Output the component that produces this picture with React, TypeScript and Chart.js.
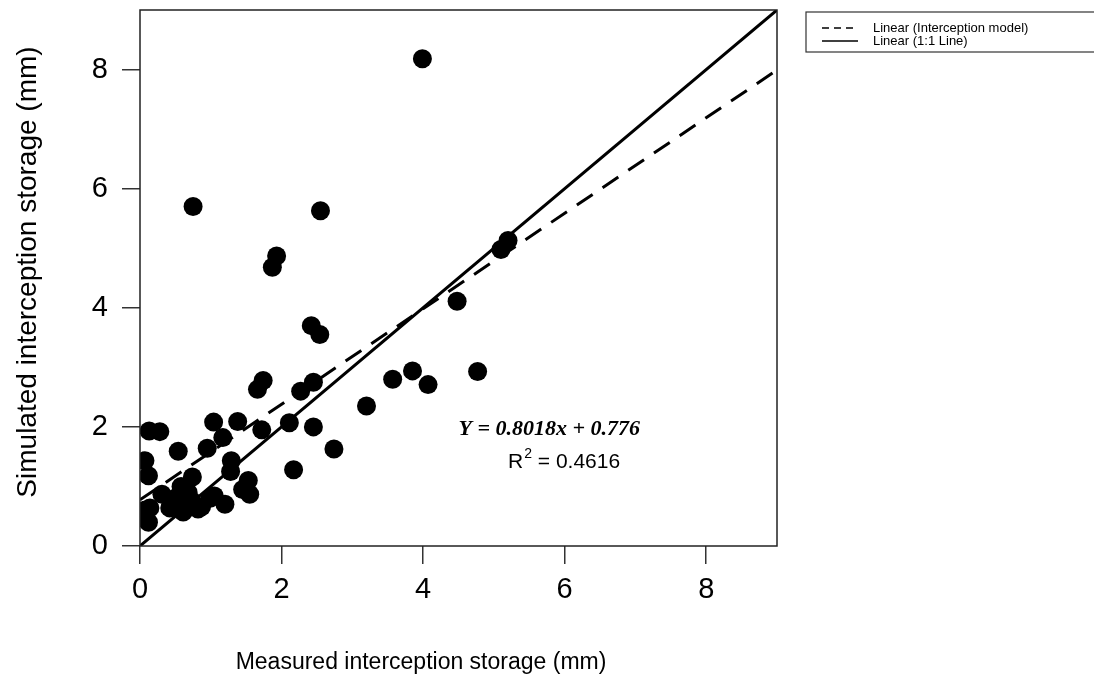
import React, { useEffect, useRef } from "react";
import { Chart, registerables } from "chart.js";

Chart.register(...registerables);

// ---- data ----
const measured = [
  3.99, 0.75, 2.55, 1.93, 1.87, 2.42, 2.54, 4.48, 5.1, 5.2,
  1.74, 1.66, 2.27, 2.45, 3.57, 3.85, 4.07, 4.77, 3.2, 2.74,
  2.17, 2.45, 2.11, 1.72, 1.38, 1.04, 1.17, 0.13, 0.28, 0.54,
  0.95, 0.07, 0.12, 1.29, 1.28, 0.74, 1.53, 1.45, 1.55, 1.2,
  1.05, 0.87, 0.99, 0.61, 0.42, 0.31, 0.12, 0.07, 0.14, 0.52,
  0.68, 0.73, 0.82, 0.58, 0.45, 0.62,
];
const simulated = [
  8.18, 5.7, 5.63, 4.87, 4.68, 3.7, 3.55, 4.11, 4.98, 5.13,
  2.78, 2.63, 2.6, 2.75, 2.8, 2.94, 2.71, 2.93, 2.35, 1.63,
  1.28, 2.0, 2.07, 1.95, 2.09, 2.08, 1.82, 1.93, 1.92, 1.59,
  1.64, 1.43, 1.18, 1.43, 1.25, 1.16, 1.1, 0.95, 0.87, 0.7,
  0.84, 0.66, 0.8, 0.57, 0.64, 0.87, 0.4, 0.6, 0.64, 0.82,
  0.9, 0.76, 0.62, 1.0, 0.72, 0.7,
];
const axisTicks = [0, 2, 4, 6, 8];
const axisMin = 0;
const axisMax = 9;
const fitSlope = 0.8018;
const fitIntercept = 0.776;
const rSquared = 0.4616;
const xTitle = "Measured interception storage (mm)";
const yTitle = "Simulated interception storage (mm)";
const fitLabel = "Linear (Interception model)";
const oneToOneLabel = "Linear (1:1 Line)";
const equationText = `Y = ${fitSlope}x + ${fitIntercept}`;

// annotation anchors (data units)
const eqAnchor = { x: 4.5, y: 1.96 };
const r2Anchor = { x: 5.2, y: 1.4 };

const SANS = '"Liberation Sans", Arial, sans-serif';
const SERIF = '"Liberation Serif", "Times New Roman", serif';

const decorPlugin = {
  id: "decor",
  afterDraw(chart: any) {
    const { ctx, chartArea: a, scales } = chart;
    const xs = scales.x;
    const ys = scales.y;
    ctx.save();
    // frame
    ctx.strokeStyle = "#222";
    ctx.lineWidth = 1.5;
    ctx.setLineDash([]);
    ctx.strokeRect(a.left, a.top, a.right - a.left, a.bottom - a.top);

    // equation
    ctx.fillStyle = "#000";
    ctx.textBaseline = "middle";
    ctx.textAlign = "left";
    ctx.font = `italic bold 22px ${SERIF}`;
    ctx.fillText(equationText, xs.getPixelForValue(eqAnchor.x), ys.getPixelForValue(eqAnchor.y));

    // R^2
    let rx = xs.getPixelForValue(r2Anchor.x);
    const ry = ys.getPixelForValue(r2Anchor.y);
    ctx.font = `21px ${SANS}`;
    ctx.fillText("R", rx, ry);
    rx += ctx.measureText("R").width;
    ctx.font = `14px ${SANS}`;
    ctx.fillText("2", rx + 1, ry - 8);
    rx += ctx.measureText("2").width + 1;
    ctx.font = `21px ${SANS}`;
    ctx.fillText(` = ${rSquared}`, rx, ry);

    // axis titles
    ctx.font = `23px ${SANS}`;
    ctx.textAlign = "center";
    ctx.fillText(xTitle, 421, 663);
    ctx.save();
    ctx.translate(28, 272);
    ctx.rotate(-Math.PI / 2);
    ctx.font = `28px ${SANS}`;
    ctx.fillText(yTitle, 0, 0);
    ctx.restore();

    // legend
    ctx.strokeStyle = "#333";
    ctx.lineWidth = 1.2;
    ctx.strokeRect(806, 12, 300, 40);
    ctx.lineWidth = 1.3;
    ctx.strokeStyle = "#000";
    ctx.setLineDash([7, 5]);
    ctx.beginPath();
    ctx.moveTo(822, 28);
    ctx.lineTo(858, 28);
    ctx.stroke();
    ctx.setLineDash([]);
    ctx.beginPath();
    ctx.moveTo(822, 41);
    ctx.lineTo(858, 41);
    ctx.stroke();
    ctx.font = `13px ${SANS}`;
    ctx.textAlign = "left";
    ctx.fillText(fitLabel, 873, 28);
    ctx.fillText(oneToOneLabel, 873, 41);
    ctx.restore();
  },
};

export default function App() {
  const ref = useRef<HTMLCanvasElement | null>(null);

  useEffect(() => {
    if (!ref.current) return;
    const points = measured.map((m, i) => ({ x: m, y: simulated[i] }));
    const fitLine = [
      { x: axisMin, y: fitSlope * axisMin + fitIntercept },
      { x: axisMax, y: fitSlope * axisMax + fitIntercept },
    ];
    const oneLine = [
      { x: axisMin, y: axisMin },
      { x: axisMax, y: axisMax },
    ];
    const tickFont = { family: SANS, size: 29 };
    const chart = new Chart(ref.current, {
      type: "scatter",
      data: {
        datasets: [
          {
            label: "Observations",
            data: points,
            pointRadius: 9.5,
            pointHoverRadius: 9.5,
            backgroundColor: "#000",
            borderWidth: 0,
          },
          {
            type: "line",
            label: fitLabel,
            data: fitLine,
            borderColor: "#000",
            borderWidth: 3,
            borderDash: [19, 12],
            pointRadius: 0,
            fill: false,
          },
          {
            type: "line",
            label: oneToOneLabel,
            data: oneLine,
            borderColor: "#000",
            borderWidth: 3,
            pointRadius: 0,
            fill: false,
          },
        ] as any,
      },
      options: {
        animation: false,
        responsive: false,
        devicePixelRatio: 1,
        layout: { padding: { left: 0, top: 10, right: 317, bottom: 0 } },
        plugins: { legend: { display: false }, tooltip: { enabled: false } },
        scales: {
          x: {
            type: "linear",
            min: axisMin,
            max: axisMax,
            afterBuildTicks: (s: any) => {
              s.ticks = axisTicks.map((v) => ({ value: v }));
            },
            afterFit: (s: any) => {
              s.height = 135;
              s.paddingLeft = 0;
              s.paddingRight = 0;
            },
            grid: { drawOnChartArea: false, drawTicks: true, tickLength: 18, color: "#333", lineWidth: 1.5 },
            border: { display: false },
            ticks: { font: tickFont, color: "#000", padding: 9, maxRotation: 0, autoSkip: false },
          },
          y: {
            type: "linear",
            min: axisMin,
            max: axisMax,
            afterBuildTicks: (s: any) => {
              s.ticks = axisTicks.map((v) => ({ value: v }));
            },
            afterFit: (s: any) => {
              s.width = 140;
              s.paddingTop = 0;
              s.paddingBottom = 0;
            },
            grid: { drawOnChartArea: false, drawTicks: true, tickLength: 18, color: "#333", lineWidth: 1.5 },
            border: { display: false },
            ticks: { font: tickFont, color: "#000", padding: 14, autoSkip: false },
          },
        },
      } as any,
      plugins: [decorPlugin],
    });
    return () => chart.destroy();
  }, []);

  return (
    <div style={{ position: "fixed", left: 0, top: 0, width: 1094, height: 681, background: "#fff", overflow: "hidden" }}>
      <canvas ref={ref} width={1094} height={681} style={{ display: "block" }} />
    </div>
  );
}
